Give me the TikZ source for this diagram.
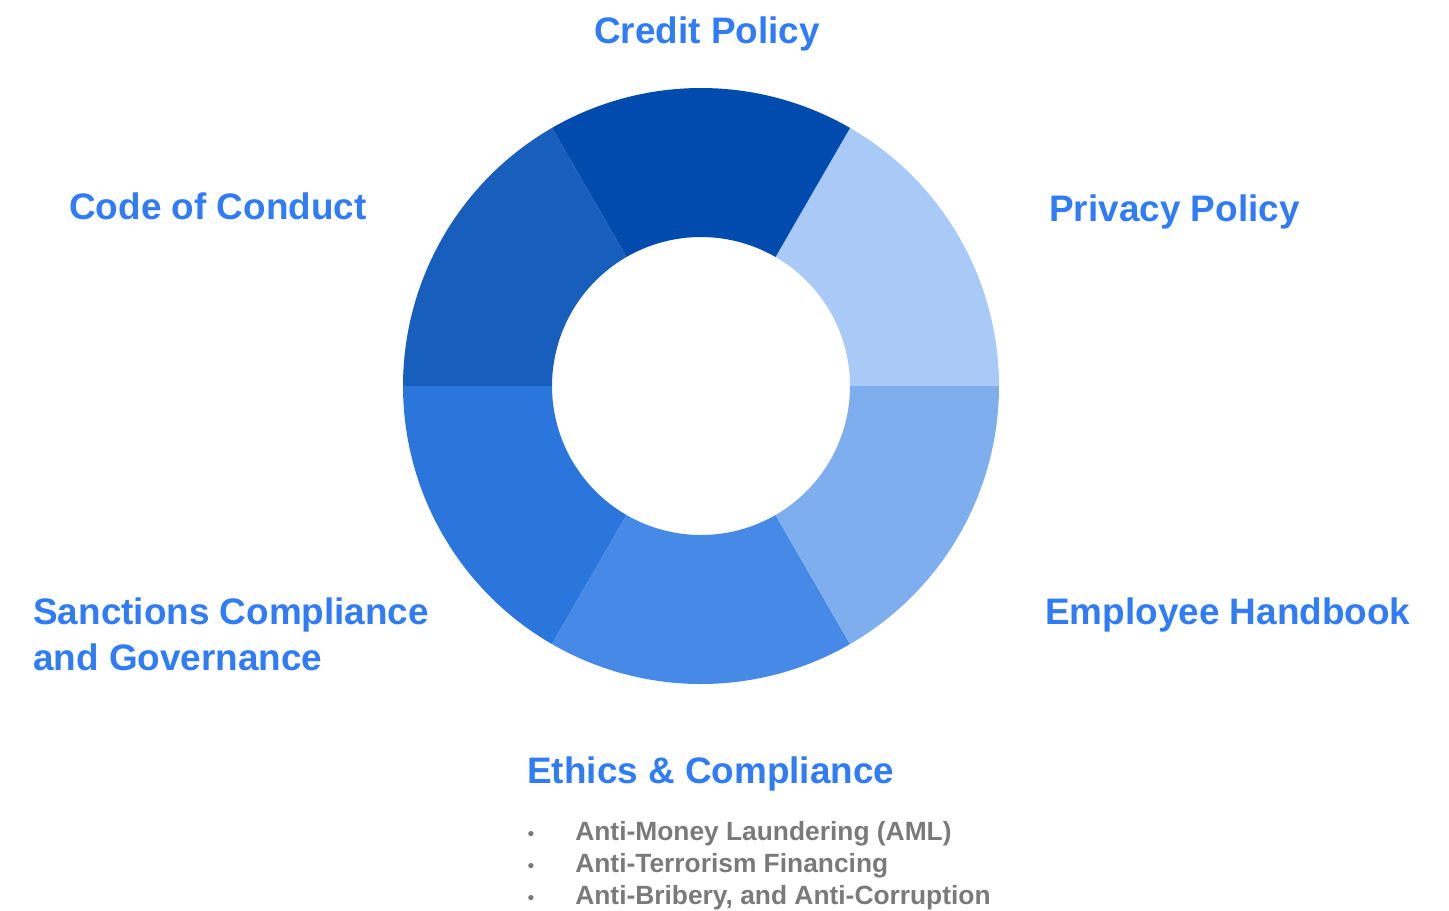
\documentclass[tikz,border=0pt]{standalone}
\usepackage{fontspec}
\setmainfont{Liberation Sans}
\usetikzlibrary{positioning}
\definecolor{labelblue}{RGB}{47,124,246}
\definecolor{itemgray}{RGB}{122,122,122}
\definecolor{segA}{RGB}{169,202,246}
\definecolor{segB}{RGB}{1,75,174}
\definecolor{segC}{RGB}{24,94,189}
\definecolor{segD}{RGB}{42,118,220}
\definecolor{segE}{RGB}{70,137,230}
\definecolor{segF}{RGB}{127,174,238}
\tikzstyle{heading}=[text=labelblue,font=\fontsize{21}{26}\selectfont\bfseries,inner sep=0pt,anchor=base west,align=left]
\tikzstyle{item}=[text=itemgray,font=\fontsize{15}{18}\selectfont\bfseries,inner sep=0pt,anchor=base west]
\tikzstyle{dot}=[text=itemgray,font=\fontsize{11}{13}\selectfont,inner sep=0pt,anchor=base]

\begin{document}
\begin{tikzpicture}[x=0.02cm,y=0.02cm]
\useasboundingbox (0,0) rectangle (1449,-910);
\coordinate (c) at (701,-386);
% ring of six parts
\foreach \a/\col in {0/segA,60/segB,120/segC,180/segD,240/segE,300/segF}
  \fill[\col] ([shift={(\a:298)}]c) arc[start angle=\a,end angle=\a+60,radius=298]
    -- ([shift={(\a+60:149)}]c) arc[start angle=\a+60,end angle=\a,radius=149] -- cycle;

\node [heading] (credit) at (594,-43) {Credit Policy};
\node [heading] (conduct) at (69,-219) {Code of Conduct};
\node [heading] (privacy) at (1049,-221) {Privacy Policy};
\node [heading] (sanctions) at (33,-670) {Sanctions Compliance\\and Governance};
\node [heading] (handbook) at (1045,-624) {Employee Handbook};
\node [heading] (ethics) at (527,-783) {Ethics \& Compliance};

% bullet list under ethics
\foreach \y/\n/\t in {840/aml/Anti-Money Laundering (AML),872/terror/Anti-Terrorism Financing,904/bribe/Anti-Bribery{,} and Anti-Corruption}{
  \node [item] (\n) at (575,-\y) {\t};
  \node [dot] (\n-dot) at (531,-\y) {•};
}
\end{tikzpicture}
\end{document}
